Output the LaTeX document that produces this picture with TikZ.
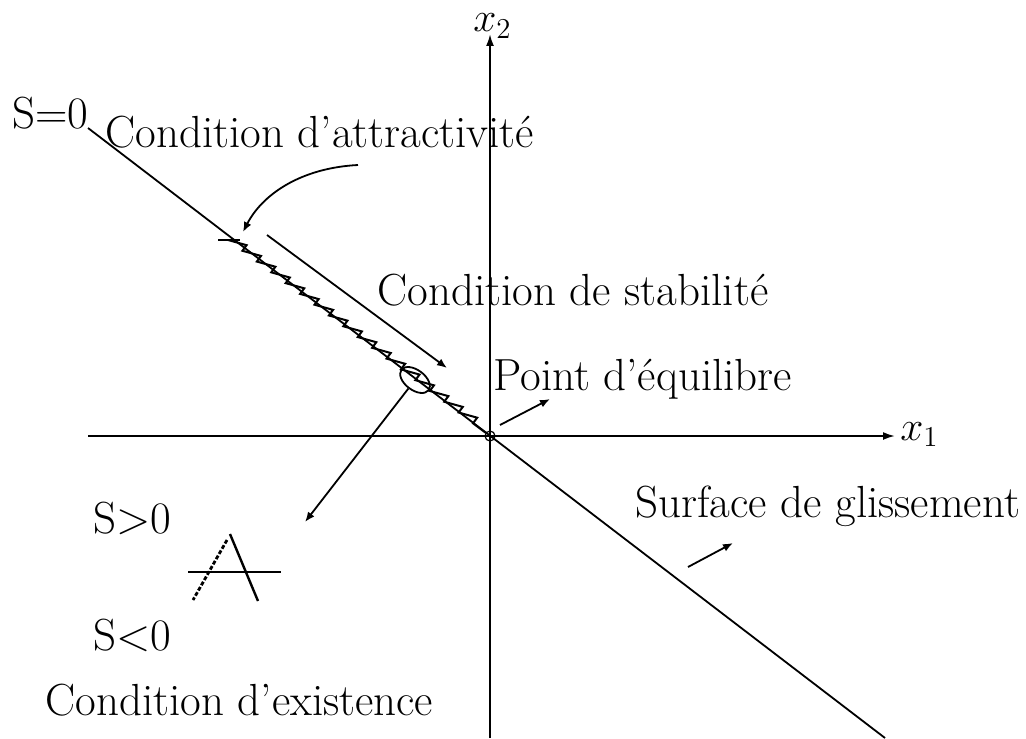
\documentclass[tikz,border=0pt]{standalone}
\usepackage{fontspec}
\usetikzlibrary{arrows.meta,decorations.pathmorphing,shapes.geometric}
\tikzset{%
  axis/.style={line width=1pt,-{Latex[length=6pt,width=4pt]}},
  arrow/.style={line width=0.9pt,-{Latex[length=5pt,width=4pt]}},
  txt/.style={inner sep=0pt,anchor=base west,font=\fontsize{22.5}{26}\selectfont},
  mathlabel/.style={inner sep=0pt,anchor=base west,font=\fontsize{21}{25}\selectfont}%
}

\begin{document}
\begin{tikzpicture}[x=0.5pt,y=-0.5pt]
\useasboundingbox (0,0) rectangle (1026,738);

% Axes
\coordinate (O) at (490,436);
\coordinate (x1start) at (88,436);
\coordinate (x1tip) at (895,436);
\coordinate (x2start) at (490,738);
\coordinate (x2tip) at (490,34);
\draw[axis] (x1start) -- (x1tip);
\draw[axis] (x2start) -- (x2tip);
\node[mathlabel] (x1) at (900,440) {$x_1$};
\node[mathlabel] (x2) at (473,32) {$x_2$};

% Sliding surface S=0
\coordinate (s0) at (88,128);
\coordinate (s1) at (885,738);
\draw[line width=0.9pt] (s0) -- (s1);

% Zigzag trajectory along the surface
\coordinate (zzstart) at (228,240);
\coordinate (zzend) at (486,433);
\draw[line width=1pt,decorate,decoration={saw,segment length=9pt,amplitude=3.5pt}] (zzstart) -- (zzend);
\coordinate (ticka) at (218,240);
\coordinate (tickb) at (240,240);
\draw[line width=0.9pt] (ticka) -- (tickb);

% Equilibrium point and zone
\node[draw,circle,line width=0.6pt,minimum size=5pt,inner sep=0pt] (eq) at (O) {};
\node[draw,ellipse,line width=0.9pt,minimum width=17pt,minimum height=10pt,inner sep=0pt,rotate=-37] (eqzone) at (415,380) {};

% Arrows
\coordinate (attrstart) at (358,165);
\coordinate (attrtip) at (243,232);
\draw[arrow] (attrstart) .. controls (300,168) and (262,195) .. (attrtip);

\coordinate (stabstart) at (267,235);
\coordinate (stabtip) at (447,368);
\draw[arrow] (stabstart) -- (stabtip);

\coordinate (existtip) at (305,522);
\draw[arrow] (eqzone) -- (existtip);

\coordinate (eqstart) at (500,425);
\coordinate (eqtip) at (550,399);
\draw[arrow] (eqstart) -- (eqtip);

\coordinate (surfstart) at (688,567);
\coordinate (surftip) at (733,543);
\draw[arrow] (surfstart) -- (surftip);

% Crossing symbol
\coordinate (bara) at (188,572);
\coordinate (barb) at (281,572);
\coordinate (legtop) at (230,534);
\coordinate (legbot) at (258,601);
\coordinate (dashtop) at (227,540);
\coordinate (dashbot) at (193,600);
\draw[line width=1.2pt] (bara) -- (barb);
\draw[line width=1.2pt] (legtop) -- (legbot);
\draw[line width=1.4pt,dash pattern=on 2pt off 1pt] (dashtop) -- (dashbot);

% Labels
\node[txt] (szero) at (12,128) {S=0};
\node[txt] (attr) at (105,148) {Condition d'attractivité};
\node[txt] (stab) at (377,305) {Condition de stabilité};
\node[txt] (eqlabel) at (493,390) {Point d'équilibre};
\node[txt] (surf) at (635,517) {Surface de glissement};
\node[txt] (spos) at (93,533) {S>0};
\node[txt] (sneg) at (93,650) {S<0};
\node[txt] (exist) at (45,715) {Condition d'existence};

\end{tikzpicture}
\end{document}
